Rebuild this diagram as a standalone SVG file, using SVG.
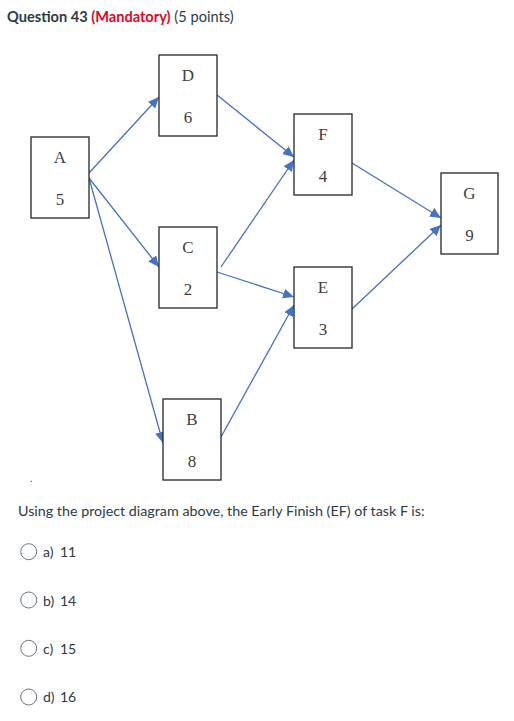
<svg xmlns="http://www.w3.org/2000/svg" width="514" height="721" viewBox="0 0 514 721">
<style>
.box{fill:#fff;stroke:#262626;stroke-width:1.3}
.lbl{font-family:"Liberation Serif",serif;font-size:17px;fill:#404040;text-anchor:middle}
.con{stroke:#4472C4;stroke-width:1.3;fill:none;marker-end:url(#ah)}
.ui{font-family:Lato,"Liberation Sans",sans-serif;fill:#2d3b45}
.opt{font-family:Lato,"Liberation Sans",sans-serif;fill:#2d3b45;font-size:14px}
.radio{fill:#fff;stroke:#6b7780;stroke-width:1}
</style>
<defs>
<marker id="ah" markerUnits="userSpaceOnUse" markerWidth="12" markerHeight="10" refX="11" refY="5" orient="auto">
<path d="M0,0 L11,5 L0,10 Z" fill="#4472C4"/>
</marker>
</defs>
<rect width="514" height="721" fill="#fff"/>
<g id="header">
<text class="ui" x="7" y="22" font-size="14.6"><tspan font-weight="bold">Question 43 </tspan><tspan font-weight="bold" fill="#e0061f">(Mandatory)</tspan><tspan> (5 points)</tspan></text>
</g>
<g id="connectors">
<line class="con" x1="89" y1="173" x2="159" y2="97"/>
<line class="con" x1="89" y1="178" x2="159" y2="267"/>
<line class="con" x1="89" y1="178" x2="163" y2="443"/>
<line class="con" x1="217" y1="95" x2="294" y2="157"/>
<line class="con" x1="221" y1="267" x2="294" y2="160"/>
<line class="con" x1="217" y1="272" x2="294" y2="297"/>
<line class="con" x1="221" y1="437" x2="294" y2="305"/>
<line class="con" x1="352" y1="163" x2="441" y2="218"/>
<line class="con" x1="352" y1="309" x2="441" y2="225"/>
</g>
<g id="node-A"><rect class="box" x="31" y="137" width="58" height="81"/><text class="lbl" x="60" y="163">A</text><text class="lbl" x="60" y="205">5</text></g>
<g id="node-D"><rect class="box" x="159" y="55" width="58" height="81"/><text class="lbl" x="188" y="81">D</text><text class="lbl" x="188" y="123">6</text></g>
<g id="node-C"><rect class="box" x="159" y="227" width="58" height="81"/><text class="lbl" x="188" y="253">C</text><text class="lbl" x="188" y="295">2</text></g>
<g id="node-B"><rect class="box" x="163" y="399" width="58" height="81"/><text class="lbl" x="192" y="425">B</text><text class="lbl" x="192" y="467">8</text></g>
<g id="node-F"><rect class="box" x="294" y="114" width="58" height="81"/><text class="lbl" x="323" y="140">F</text><text class="lbl" x="323" y="182">4</text></g>
<g id="node-E"><rect class="box" x="294" y="267" width="58" height="81"/><text class="lbl" x="323" y="293">E</text><text class="lbl" x="323" y="335">3</text></g>
<g id="node-G"><rect class="box" x="441" y="173" width="57" height="81"/><text class="lbl" x="469.5" y="199">G</text><text class="lbl" x="469.5" y="241">9</text></g>
<text class="ui" x="30" y="482" font-size="10">.</text>
<g id="question">
<text class="ui" x="18" y="516" font-size="14.3">Using the project diagram above, the Early Finish (EF) of task F is:</text>
</g>
<g id="options">
<circle class="radio" cx="28.7" cy="551.7" r="8"/><text class="opt" x="43" y="557">a)<tspan x="60">11</tspan></text>
<circle class="radio" cx="28.7" cy="600" r="8"/><text class="opt" x="43" y="605.5">b)<tspan x="60">14</tspan></text>
<circle class="radio" cx="28.7" cy="648.3" r="8"/><text class="opt" x="43" y="653.5">c)<tspan x="60">15</tspan></text>
<circle class="radio" cx="28.7" cy="697" r="8"/><text class="opt" x="43" y="702">d)<tspan x="60">16</tspan></text>
</g>
</svg>
